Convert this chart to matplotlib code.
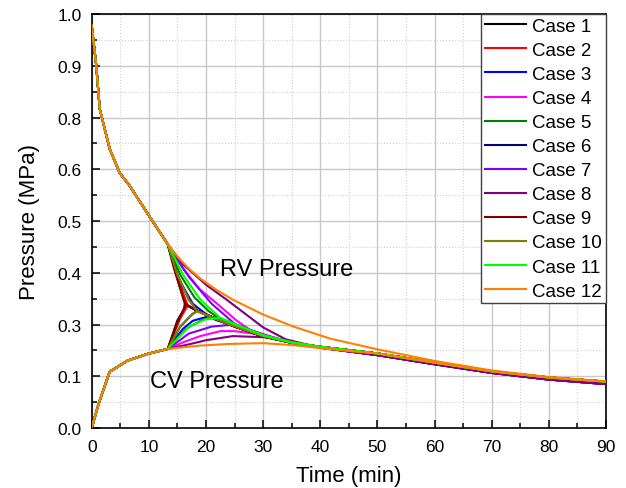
import numpy as np
import matplotlib
matplotlib.use('Agg')
import matplotlib.pyplot as plt
from matplotlib.ticker import MultipleLocator

plt.rcParams['font.family'] = ['Liberation Sans', 'DejaVu Sans']

y_tick_labels = ['0.0', '0.1', '0.3', '0.4', '0.5', '0.6', '0.8', '0.9', '1.0']

case_names = ['Case %d' % i for i in range(1, 13)]
case_colors = ['#000000', '#ff0000', '#0000ff', '#ff00ff', '#008000', '#000080',
               '#8000ff', '#800080', '#800000', '#808000', '#00ff00', '#ff8000']

# shared part before the branch (t < 13.3 min)
pre_t_rv = [0.0, 0.8, 1.4, 3.15, 4.9, 6.65, 10.2]
pre_rv = [0.972, 0.875, 0.771, 0.674, 0.616, 0.585, 0.509]
pre_t_cv = [0.0, 1.2, 3.15, 6.3, 9.8]
pre_cv = [0.0, 0.058, 0.136, 0.163, 0.179]

# common tails after t = 40 min
tail_t = [40, 50, 60, 70, 80, 90]
tail_mid = [0.196, 0.180, 0.158, 0.137, 0.122, 0.112]
tail_low = [0.194, 0.176, 0.154, 0.133, 0.117, 0.106]

# per case: RV branch, CV branch (both from the branch point), then merged curve
rv_t = [
    [13.3, 14.5, 15.6, 16.6],
    [13.3, 15.0, 16.8],
    [13.3, 15.2, 17.7, 20.5],
    [13.3, 16.0, 18.9, 21.8, 25.3, 27.7],
    [13.3, 15.5, 18.0, 20.5, 22.0],
    [13.3, 15.0, 17.0, 18.5],
    [13.3, 17.0, 21.0, 25.0],
    [13.3, 16.0, 20.1, 23.6, 26.0, 30.0, 34.0],
    [13.3, 14.3, 15.4, 16.3],
    [13.3, 15.0, 17.0, 18.5],
    [13.3, 16.0, 19.0, 22.5],
    [13.3, 15.0, 17.0, 19.0, 21.8, 24.7, 30.0, 35.3, 41.7, 50.0, 60.0, 70.0, 80.0, 90.0],
]
rv_p = [
    [0.444, 0.39, 0.34, 0.297],
    [0.444, 0.36, 0.296],
    [0.444, 0.36, 0.30, 0.270],
    [0.444, 0.385, 0.335, 0.302, 0.260, 0.237],
    [0.444, 0.37, 0.315, 0.282, 0.268],
    [0.444, 0.37, 0.31, 0.283],
    [0.444, 0.365, 0.30, 0.252],
    [0.444, 0.395, 0.345, 0.310, 0.285, 0.243, 0.214],
    [0.444, 0.39, 0.34, 0.300],
    [0.444, 0.37, 0.31, 0.282],
    [0.444, 0.37, 0.31, 0.266],
    [0.444, 0.414, 0.385, 0.361, 0.334, 0.310, 0.274, 0.245, 0.216, 0.190, 0.162, 0.139, 0.123, 0.113],
]
cv_t = [
    [13.3, 15.0, 16.6],
    [13.3, 15.5, 16.8],
    [13.3, 16.0, 17.7, 20.5],
    [13.3, 16.0, 19.0, 22.5, 25.0, 28.8, 32.5],
    [13.3, 16.5, 19.5, 22.0],
    [13.3, 15.5, 17.6, 18.5],
    [13.3, 17.0, 21.0, 25.0],
    [13.3, 17.0, 20.0, 24.7, 30.6, 36.4],
    [13.3, 15.0, 16.1, 16.3],
    [13.3, 15.5, 17.6, 18.5],
    [13.3, 17.0, 20.0, 22.5],
    [13.3, 18.9, 24.0, 30.0, 35.3, 40.0, 45.0, 50.0, 60.0, 70.0, 80.0, 90.0],
]
cv_p = [
    [0.191, 0.26, 0.297],
    [0.191, 0.265, 0.296],
    [0.191, 0.24, 0.259, 0.270],
    [0.191, 0.207, 0.222, 0.234, 0.234, 0.227, 0.214],
    [0.191, 0.24, 0.262, 0.268],
    [0.191, 0.245, 0.275, 0.283],
    [0.191, 0.228, 0.245, 0.250],
    [0.191, 0.202, 0.212, 0.222, 0.219, 0.203],
    [0.191, 0.255, 0.287, 0.300],
    [0.191, 0.245, 0.275, 0.282],
    [0.191, 0.245, 0.263, 0.266],
    [0.191, 0.199, 0.203, 0.205, 0.200, 0.193, 0.186, 0.180, 0.158, 0.137, 0.122, 0.112],
]
# merged curve (RV = CV) from the meeting point up to t = 40, then a tail
merge_t = [
    [18.9, 21.8, 25.0, 30.0, 35.0],
    [18.9, 21.8, 25.0, 30.0, 35.0],
    [21.8, 25.0, 30.0, 35.0],
    [35.0],
    [25.0, 30.0, 35.0],
    [21.8, 25.0, 30.0, 35.0],
    [30.0, 35.0],
    [],
    [18.0, 21.8, 25.0, 30.0, 35.0],
    [21.8, 25.0, 30.0, 35.0],
    [25.0, 30.0, 35.0],
    [],
]
merge_p = [
    [0.281, 0.263, 0.245, 0.221, 0.206],
    [0.281, 0.263, 0.245, 0.221, 0.206],
    [0.261, 0.246, 0.222, 0.206],
    [0.205],
    [0.250, 0.223, 0.206],
    [0.264, 0.246, 0.222, 0.206],
    [0.225, 0.207],
    [],
    [0.286, 0.263, 0.245, 0.221, 0.206],
    [0.263, 0.246, 0.222, 0.206],
    [0.251, 0.224, 0.207],
    [],
]
tail_kind = ['mid', 'mid', 'mid', 'low', 'mid', 'mid', 'low', 'low', 'mid', 'mid', 'mid', None]


def main():
    fig = plt.figure(figsize=(6.26, 4.89), dpi=100)
    ax = fig.add_axes([0.1465, 0.1227, 0.8215, 0.8466])

    for i in range(12):
        c = case_colors[i]
        if tail_kind[i] is None:
            end_t, end_p = [], []
        else:
            end_t = merge_t[i] + tail_t
            end_p = merge_p[i] + (tail_mid if tail_kind[i] == 'mid' else tail_low)
        t_rv = pre_t_rv + rv_t[i] + end_t
        p_rv = pre_rv + rv_p[i] + end_p
        t_cv = pre_t_cv + cv_t[i] + end_t
        p_cv = pre_cv + cv_p[i] + end_p
        ax.plot(t_rv, p_rv, color=c, lw=1.5, label=case_names[i], zorder=3)
        ax.plot(t_cv, p_cv, color=c, lw=1.5, zorder=3)

    ax.set_xlim(0, 90)
    ax.set_ylim(0, 1)
    ax.xaxis.set_major_locator(MultipleLocator(10))
    ax.xaxis.set_minor_locator(MultipleLocator(5))
    ypos = np.linspace(0, 1, len(y_tick_labels))
    ax.set_yticks(ypos)
    ax.set_yticklabels(y_tick_labels)
    ax.set_yticks((ypos[:-1] + ypos[1:]) / 2, minor=True)

    ax.grid(which='major', color='#c8c8c8', lw=1.0, ls='-', zorder=0)
    ax.grid(which='minor', color='#d0d0d0', lw=0.8, ls=':', zorder=0)
    ax.set_axisbelow(True)

    ax.tick_params(which='both', direction='in', top=False, right=False,
                   labelsize=12.5, width=1.1)
    ax.tick_params(axis='x', pad=8)
    ax.tick_params(axis='y', pad=7)
    ax.tick_params(which='major', length=6)
    ax.tick_params(which='minor', length=3.5)
    for s in ax.spines.values():
        s.set_linewidth(1.2)

    ax.set_xlabel('Time (min)', fontsize=16, labelpad=8)
    ax.set_ylabel('Pressure (MPa)', fontsize=16, labelpad=13)

    ax.text(22.4, 0.384, 'RV Pressure', fontsize=17, va='center', ha='left')
    ax.text(10.2, 0.114, 'CV Pressure', fontsize=17, va='center', ha='left')

    leg = ax.legend(loc='upper right', bbox_to_anchor=(1, 1), borderaxespad=0,
                    fontsize=13.5, handlelength=2.2, handletextpad=0.35,
                    labelspacing=0.37, borderpad=0.2, fancybox=False, framealpha=1)
    leg.get_frame().set_edgecolor('#404040')
    leg.get_frame().set_linewidth(1.0)

    fig.savefig('out.png', dpi=100)


if __name__ == '__main__':
    main()
